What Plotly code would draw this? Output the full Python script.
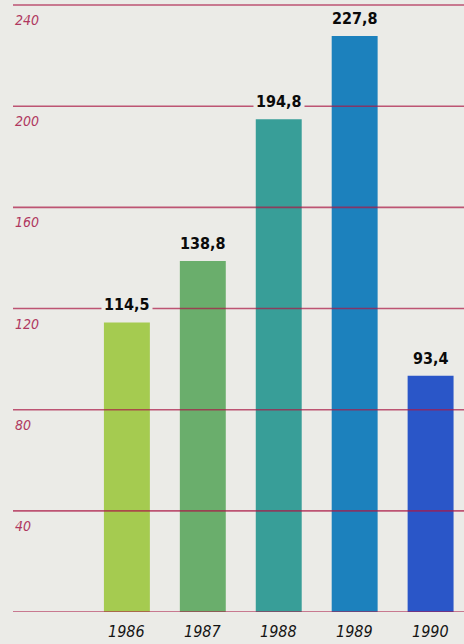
import plotly.graph_objects as go

# Annual values
years = ["1986", "1987", "1988", "1989", "1990"]
values = [114.5, 138.8, 194.8, 227.8, 93.4]
bar_colors = ["#a5cb50", "#6aae6c", "#389e98", "#1c81bd", "#2a56c8"]
grid_values = [0, 40, 80, 120, 160, 200, 240]
tick_labels = ["40", "80", "120", "160", "200", "240"]

BG = "#ebebe7"
GRID = "rgba(170, 25, 70, 0.72)"
TICK_COLOR = "#b0385f"
FONT = "Liberation Sans Narrow, DejaVu Sans Condensed, Arial Narrow, sans-serif"

fig = go.Figure()
fig.add_trace(go.Bar(
    x=years,
    y=values,
    marker=dict(color=bar_colors, line=dict(width=0)),
    width=0.605,
    hoverinfo="skip",
))

# Horizontal rules drawn over the bars
shapes = []
for g in grid_values:
    shapes.append(dict(
        type="line", xref="paper", yref="y",
        x0=0, x1=1, y0=g, y1=g,
        line=dict(color=GRID, width=1.6),
        layer="above",
    ))

annotations = []
# Scale labels sit just under each rule, at the left edge
for t in tick_labels:
    annotations.append(dict(
        xref="paper", yref="y", x=0, y=float(t),
        xanchor="left", yanchor="top", yshift=-5,
        text=f"<i>{t}</i>", showarrow=False,
        font=dict(family=FONT, size=14, color=TICK_COLOR),
    ))

# Value labels above the bars, masking the rules behind them
for i, v in enumerate(values):
    annotations.append(dict(
        xref="x", yref="y", x=i, y=v,
        xanchor="center", yanchor="bottom", yshift=5,
        text=f"<b>{v:.1f}</b>".replace(".", ","), showarrow=False,
        font=dict(family=FONT, size=16, color="#0a0a0a"),
        bgcolor=BG, borderpad=2,
    ))

# Year labels under the baseline
for i, yr in enumerate(years):
    annotations.append(dict(
        xref="x", yref="paper", x=i, y=0,
        xanchor="center", yanchor="top", yshift=-8,
        text=f"<i>{yr}</i>", showarrow=False,
        font=dict(family=FONT, size=16, color="#141414", weight=500),
    ))

fig.update_layout(
    width=464, height=644,
    margin=dict(l=13, r=0, t=0, b=32),
    paper_bgcolor=BG, plot_bgcolor=BG,
    showlegend=False,
    shapes=shapes,
    annotations=annotations,
    xaxis=dict(type="category", range=[-1.5, 4.44], showticklabels=False,
               showgrid=False, zeroline=False, showline=False, ticks=""),
    yaxis=dict(range=[0, 242], showticklabels=False, showgrid=False,
               zeroline=False, showline=False, ticks=""),
)

fig.write_html("out.html")
